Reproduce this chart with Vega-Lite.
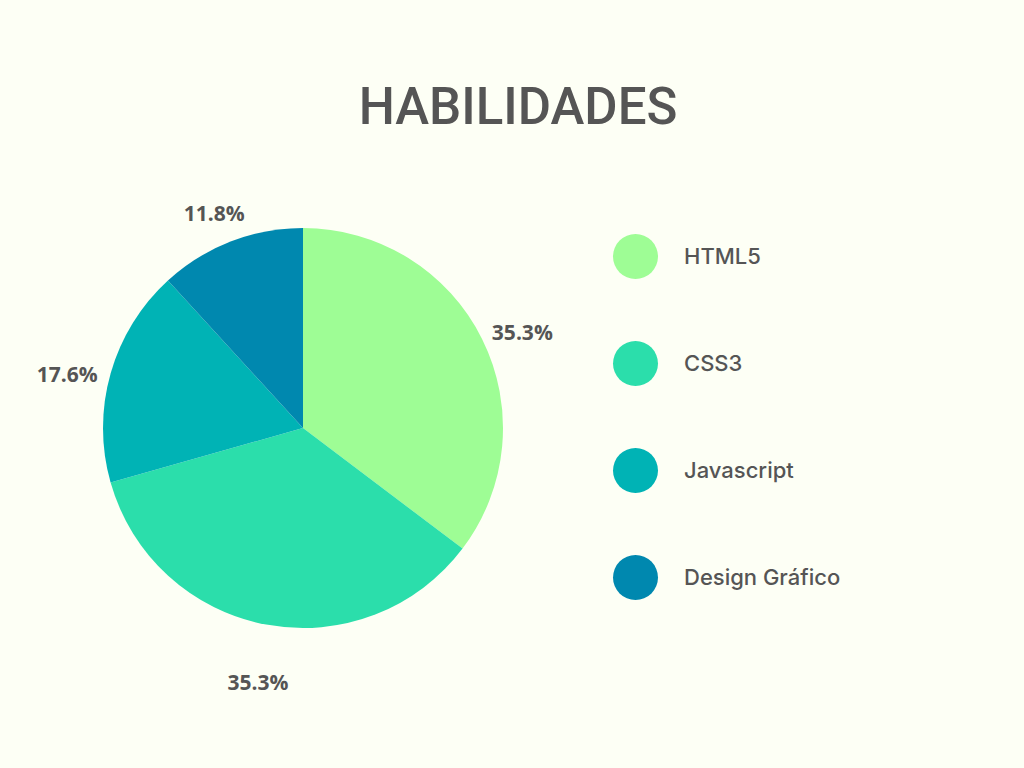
{
  "$schema": "https://vega.github.io/schema/vega-lite/v6.json",
  "width": 400,
  "height": 400,
  "autosize": {"type": "none"},
  "padding": {"left": 103, "top": 228, "right": 521, "bottom": 140},
  "background": "#FDFFF5",
  "title": {
    "text": "HABILIDADES",
    "font": "Roboto",
    "fontSize": 51,
    "fontWeight": 500,
    "color": "#555555",
    "anchor": "middle",
    "frame": "group",
    "dx": 215,
    "offset": 69
  },
  "data": {
    "values": [
      {"skill": "HTML5", "value": 35.3, "label": "35.3%", "rank": 1},
      {"skill": "CSS3", "value": 35.3, "label": "35.3%", "rank": 2},
      {"skill": "Javascript", "value": 17.6, "label": "17.6%", "rank": 3},
      {"skill": "Design Gráfico", "value": 11.8, "label": "11.8%", "rank": 4}
    ]
  },
  "encoding": {
    "theta": {"field": "value", "type": "quantitative", "stack": true},
    "order": {"field": "rank", "type": "ordinal"}
  },
  "layer": [
    {
      "mark": {"type": "arc", "outerRadius": 200},
      "encoding": {
        "color": {
          "field": "skill",
          "type": "nominal",
          "sort": ["HTML5", "CSS3", "Javascript", "Design Gráfico"],
          "scale": {
            "domain": ["HTML5", "CSS3", "Javascript", "Design Gráfico"],
            "range": ["#9EFD95", "#2BDEAB", "#00B3B5", "#0088AF"]
          },
          "legend": {
            "orient": "none",
            "legendX": 510,
            "legendY": 6,
            "title": null,
            "symbolType": "circle",
            "symbolSize": 2025,
            "symbolStrokeWidth": 0,
            "symbolOpacity": 1,
            "labelFont": "Inter",
            "labelFontSize": 22,
            "labelFontWeight": 500,
            "labelColor": "#555555",
            "labelOffset": 26,
            "rowPadding": 62,
            "padding": 0,
            "labelLimit": 300
          }
        }
      }
    },
    {
      "mark": {
        "type": "text",
        "radius": 245,
        "dy": 15,
        "font": "Open Sans",
        "fontSize": 21,
        "fontWeight": "bold",
        "color": "#555555",
        "align": "center",
        "baseline": "middle"
      },
      "encoding": {
        "text": {"field": "label", "type": "nominal"}
      }
    }
  ],
  "config": {"view": {"stroke": null}}
}
